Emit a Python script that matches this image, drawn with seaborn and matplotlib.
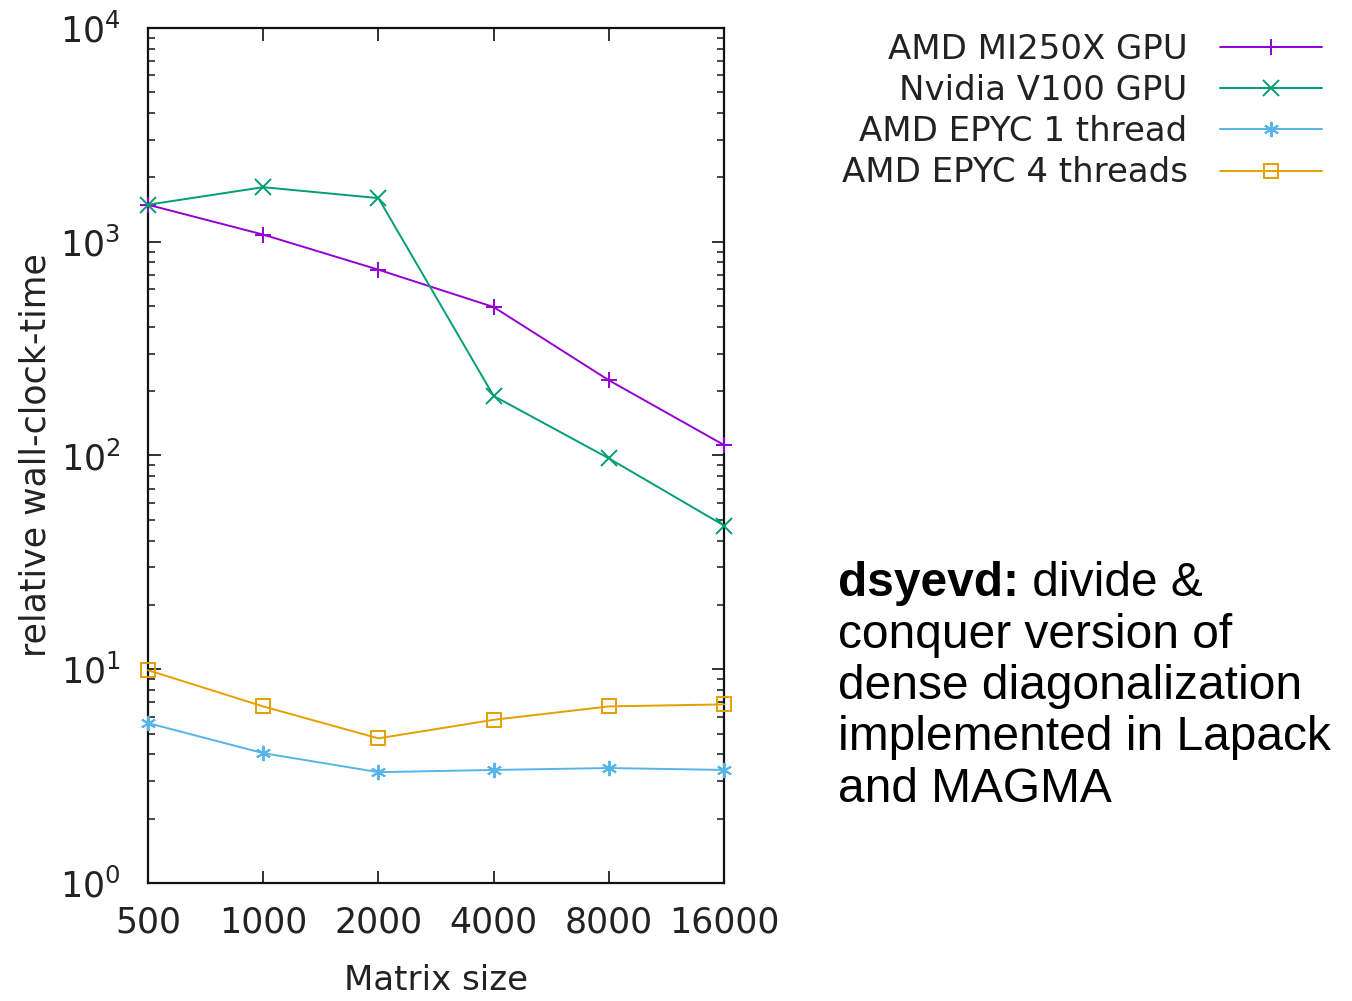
import matplotlib
matplotlib.use("Agg")
import matplotlib.pyplot as plt
import seaborn as sns
import numpy as np
import pandas as pd
from matplotlib.ticker import FixedLocator, FixedFormatter, LogLocator, NullFormatter, NullLocator

# ---- data ----
matrix_sizes = [500, 1000, 2000, 4000, 8000, 16000]
mi250x = [1490, 1080, 740, 495, 225, 112]
v100 = [1490, 1800, 1600, 190, 97, 47]
epyc1 = [5.6, 4.05, 3.3, 3.38, 3.45, 3.38]
epyc4 = [9.9, 6.7, 4.75, 5.8, 6.7, 6.85]
series_names = ["AMD MI250X GPU", "Nvidia V100 GPU", "AMD EPYC 1 thread", "AMD EPYC 4 threads"]
x_tick_labels = ["500", "1000", "2000", "4000", "8000", "16000"]
colors = ["#9400d3", "#009e73", "#56b4e9", "#e69f00"]

sns.set_style("ticks")
plt.rcParams["font.family"] = ["DejaVu Sans"]
plt.rcParams["mathtext.default"] = "regular"

fig = plt.figure(figsize=(13.52, 10.01), dpi=100)
ax = fig.add_axes([148/1352, 1-883/1001, (724-148)/1352, (883-28)/1001])

markers = ["+", "x", (6, 2, 0), "s"]
all_vals = [mi250x, v100, epyc1, epyc4]
for name, vals, c, m in zip(series_names, all_vals, colors, markers):
    df = pd.DataFrame({"size": matrix_sizes, "time": vals})
    sns.lineplot(data=df, x="size", y="time", ax=ax, color=c, marker=m,
                 markersize=11 if m != "s" else 10, markeredgewidth=1.4,
                 markerfacecolor="none", markeredgecolor=c,
                 linewidth=1.4, label=name, clip_on=False, zorder=3)

ax.set_xscale("log", base=2)
ax.set_yscale("log")
ax.set_xlim(500, 16000)
ax.set_ylim(1, 1e4)

ax.xaxis.set_major_locator(FixedLocator(matrix_sizes))
ax.xaxis.set_major_formatter(FixedFormatter(x_tick_labels))
ax.xaxis.set_minor_locator(NullLocator())
ax.yaxis.set_major_locator(LogLocator(base=10, numticks=10))
ax.yaxis.set_minor_locator(LogLocator(base=10, subs=np.arange(2, 10), numticks=10))
ax.yaxis.set_minor_formatter(NullFormatter())

ax.tick_params(axis="both", which="major", direction="in", length=9, width=1.3,
               top=True, right=True, colors="#222222")
ax.tick_params(axis="x", which="major", labelsize=25, pad=16)
ax.tick_params(axis="y", which="major", labelsize=25, pad=20)
ax.tick_params(axis="both", which="minor", direction="in", length=5, width=1.2,
               top=True, right=True)
for s in ax.spines.values():
    s.set_linewidth(1.6)
    s.set_color("#111111")

ax.set_xlabel("Matrix size", fontsize=24.5, labelpad=18, color="#222222")
ax.set_ylabel("relative wall-clock-time", fontsize=25, labelpad=5, color="#222222")

leg = ax.legend(loc="upper right", bbox_to_anchor=(1322/1352, 1-33/1001),
                bbox_transform=fig.transFigure, frameon=False, markerfirst=False,
                fontsize=24.5, handlelength=3.0, handletextpad=0.95, labelspacing=0.24,
                borderpad=0, borderaxespad=0)
for t in leg.get_texts():
    t.set_color("#222222")

# annotation text
tfont = dict(family=["Liberation Sans", "DejaVu Sans"], fontsize=34.5, color="black")
t1 = fig.text(838/1352, 1-596/1001, "dsyevd:", fontweight="bold", va="baseline", ha="left", **tfont)
ax.annotate(" divide &", xy=(1, 0), xycoords=t1, va="bottom", ha="left",
            annotation_clip=False, **tfont)
lines = ["conquer version of", "dense diagonalization", "implemented in Lapack", "and MAGMA"]
for i, ln in enumerate(lines):
    fig.text(838/1352, 1-(596+51.5*(i+1))/1001, ln, va="baseline", ha="left", **tfont)

fig.savefig("out.png", dpi=100)
